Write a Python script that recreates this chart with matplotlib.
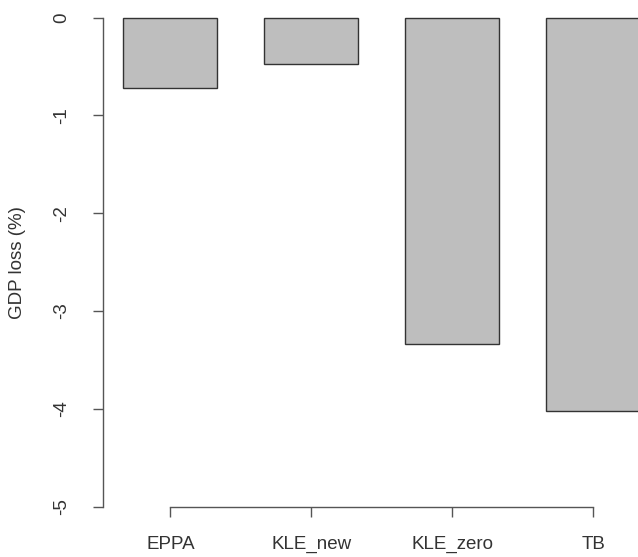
import matplotlib
matplotlib.use("Agg")
import matplotlib.pyplot as plt

categories = ["EPPA", "KLE_new", "KLE_zero", "TB"]
gdp_loss = [-0.72, -0.48, -3.34, -4.02]
yticks = [0, -1, -2, -3, -4, -5]

plt.rcParams['font.family'] = ['Liberation Sans', 'DejaVu Sans']

W, H = 638, 557
fig = plt.figure(figsize=(W / 100, H / 100), dpi=100)

# R-like barplot geometry: width 1, space 0.5
centers = [1 + 1.5 * i for i in range(len(categories))]
x_lo, x_hi = 0.5 - 0.22, 6.0 + 0.22

left_px, right_px = 102.8, 661.0
top_px, bot_px = 17.5, 506.7
ax = fig.add_axes([left_px / W, 1 - bot_px / H, (right_px - left_px) / W, (bot_px - top_px) / H])
ax.set_xlim(x_lo, x_hi)
ax.set_ylim(-5, 0)
ax.set_clip_on(False)

bars = ax.bar(centers, gdp_loss, width=1.0, color="#bebebe", edgecolor="#333333", linewidth=1.0)
for b in bars:
    b.set_clip_on(False)

axis_col = "#555555"
text_col = "#333333"
for s in ["top", "right"]:
    ax.spines[s].set_visible(False)
ax.spines["left"].set_bounds(-5, 0)
ax.spines["bottom"].set_bounds(centers[0], centers[-1])
for s in ["left", "bottom"]:
    ax.spines[s].set_color(axis_col)
    ax.spines[s].set_linewidth(1.0)

ax.set_yticks(yticks)
ax.set_yticklabels([str(v) for v in yticks], rotation=90, va="center")
ax.set_xticks(centers)
ax.set_xticklabels(categories)
ax.tick_params(axis="both", length=7.2, width=1.0, color=axis_col, labelcolor=text_col, labelsize=13.5)
ax.tick_params(axis="y", pad=16)
ax.tick_params(axis="x", pad=14)

ax.set_ylabel("GDP loss (%)", fontsize=13.5, color=text_col, labelpad=20)

fig.savefig("out.png", dpi=100)
